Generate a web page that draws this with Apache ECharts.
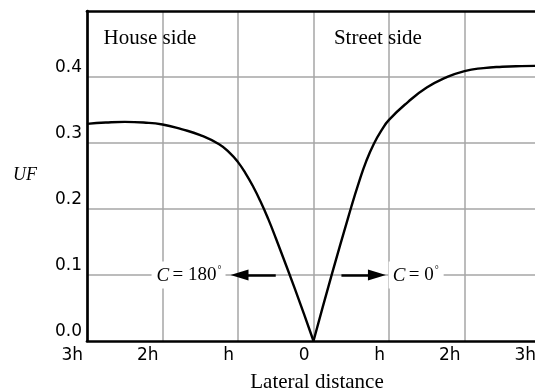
<!DOCTYPE html>
<html>
<head>
<meta charset="utf-8">
<script src="https://cdn.jsdelivr.net/npm/echarts@6/dist/echarts.min.js"></script>
<style>
html,body{margin:0;padding:0;background:#fff;}
#chart{width:535px;height:392px;}
</style>
</head>
<body>
<div id="chart"></div>
<script>
// House side (C = 180°) branch
var houseX  = [-3, -2.75, -2.5, -2.25, -2, -1.75, -1.5, -1.25, -1.1, -1, -0.9, -0.8, -0.7, -0.6, -0.5, -0.25, 0];
var houseUF = [0.329, 0.331, 0.332, 0.331, 0.328, 0.321, 0.312, 0.298, 0.284, 0.271, 0.254, 0.234, 0.211, 0.185, 0.156, 0.080, 0];
// Street side (C = 0°) branch
var streetX  = [0, 0.25, 0.5, 0.6, 0.7, 0.8, 0.9, 1, 1.25, 1.5, 1.75, 2, 2.25, 2.5, 2.75, 3];
var streetUF = [0, 0.104, 0.203, 0.240, 0.273, 0.299, 0.319, 0.335, 0.362, 0.384, 0.399, 0.409, 0.4135, 0.4155, 0.4165, 0.417];
// tick labels
var xTickValues = [-3, -2, -1, 0, 1, 2, 3];
var xTickLabels = ['3h', '2h', 'h', '0', 'h', '2h', '3h'];
var yTickLabels = ['0.0', '0.1', '0.2', '0.3', '0.4', ''];
// text annotations
var xTitle = 'Lateral distance';
var yTitle = 'UF';
var sideLabels = ['House side', 'Street side'];

function pairs(xs, ys) { return xs.map(function (x, i) { return [x, ys[i]]; }); }

var chart = echarts.init(document.getElementById('chart'), null, {renderer: 'canvas'});
var serif = 'Liberation Serif';
var sans = 'DejaVu Sans';
var gridColor = '#a6a6a6';

var option = {
  animation: false,
  backgroundColor: '#fff',
  grid: {left: 87, top: 11, right: -5, bottom: 51, containLabel: false, outerBoundsMode: 'none'},
  xAxis: [{
    type: 'value', min: -3, max: 3, interval: 1, position: 'bottom',
    axisLine: {show: true, onZero: false, lineStyle: {color: '#000', width: 2.7}},
    axisTick: {show: false},
    splitLine: {show: true, showMinLine: false, showMaxLine: false, lineStyle: {color: gridColor, width: 1.5}},
    axisLabel: {
      show: true, showMinLabel: true, showMaxLabel: true, margin: 6,
      align: 'right', padding: [0, 4, 0, 0],
      color: '#000', fontFamily: sans, fontSize: 17,
      formatter: function (v) { var i = xTickValues.indexOf(Math.round(v)); return i >= 0 ? xTickLabels[i] : ''; }
    },
    name: xTitle, nameLocation: 'middle', nameGap: 31,
    nameTextStyle: {fontFamily: serif, fontSize: 21, color: '#000', padding: [0, 0, 0, 7]}
  }, {
    type: 'value', min: -3, max: 3, interval: 1, position: 'top',
    axisLine: {show: true, onZero: false, lineStyle: {color: '#000', width: 2.7}},
    axisTick: {show: false}, axisLabel: {show: false}, splitLine: {show: false}
  }],
  yAxis: {
    type: 'value', min: 0, max: 0.5, interval: 0.1,
    axisLine: {show: true, onZero: false, lineStyle: {color: '#000', width: 2.7}},
    axisTick: {show: false},
    splitLine: {show: true, showMinLine: false, showMaxLine: false, lineStyle: {color: gridColor, width: 1.5}},
    axisLabel: {
      show: true, margin: 5, verticalAlign: 'bottom', lineHeight: 17, padding: [0, 0, 1, 0],
      color: '#000', fontFamily: sans, fontSize: 17,
      formatter: function (v) { return yTickLabels[Math.round(v * 10)]; }
    }
  },
  series: [{
    type: 'line', name: 'House side', data: pairs(houseX, houseUF),
    smooth: 0.5, showSymbol: false, symbol: 'none',
    lineStyle: {color: '#000', width: 2.4}, silent: true, z: 5,
    markLine: {
      silent: true, symbol: ['none', 'triangle'], symbolSize: [11, 18],
      label: {show: false}, lineStyle: {color: '#000', width: 2.6, type: 'solid'},
      emphasis: {disabled: true},
      data: [[{coord: [-0.5, 0.1]}, {coord: [-0.98, 0.1]}]]
    }
  }, {
    type: 'line', name: 'Street side', data: pairs(streetX, streetUF),
    smooth: 0.5, showSymbol: false, symbol: 'none',
    lineStyle: {color: '#000', width: 2.4}, silent: true, z: 5,
    markLine: {
      silent: true, symbol: ['none', 'triangle'], symbolSize: [11, 18],
      label: {show: false}, lineStyle: {color: '#000', width: 2.6, type: 'solid'},
      emphasis: {disabled: true},
      data: [[{coord: [0.37, 0.1]}, {coord: [0.84, 0.1]}]]
    }
  }]
};
chart.setOption(option);

function px(x, y) { return chart.convertToPixel({xAxisIndex: 0, yAxisIndex: 0}, [x, y]); }
var pH = px(-2.78, 0.458), pS = px(0.27, 0.458), pY = px(-3, 0.25);
var pA = px(-1.655, 0.1), pB = px(1.36, 0.1);
var rich = {
  i: {fontFamily: serif, fontStyle: 'italic', fontSize: 19, color: '#000'},
  n: {fontFamily: serif, fontSize: 19, color: '#000'},
  s: {fontFamily: serif, fontSize: 10, color: '#000', verticalAlign: 'top', padding: [0, 0, 10, 1]}
};
chart.setOption({
  graphic: [
    {type: 'text', z: 100, x: pH[0], y: pH[1], style: {text: sideLabels[0], font: '21px "' + serif + '"', fill: '#000', textAlign: 'left', textVerticalAlign: 'middle'}},
    {type: 'text', z: 100, x: pS[0], y: pS[1], style: {text: sideLabels[1], font: '21px "' + serif + '"', fill: '#000', textAlign: 'left', textVerticalAlign: 'middle'}},
    {type: 'text', z: 100, x: 25, y: pY[1] - 1, style: {text: yTitle, font: 'italic 18px "' + serif + '"', fill: '#000', textAlign: 'center', textVerticalAlign: 'middle'}},
    {type: 'text', z: 100, x: pA[0], y: pA[1], style: {text: '{i|C} {n|= 180}{s|°}', rich: rich, backgroundColor: '#fff', padding: [4, 4, 3, 5], textAlign: 'center', textVerticalAlign: 'middle'}},
    {type: 'text', z: 100, x: pB[0], y: pB[1], style: {text: '{i|C} {n|= 0}{s|°}', rich: rich, backgroundColor: '#fff', padding: [4, 5, 3, 4], textAlign: 'center', textVerticalAlign: 'middle'}}
  ]
});
</script>
</body>
</html>
